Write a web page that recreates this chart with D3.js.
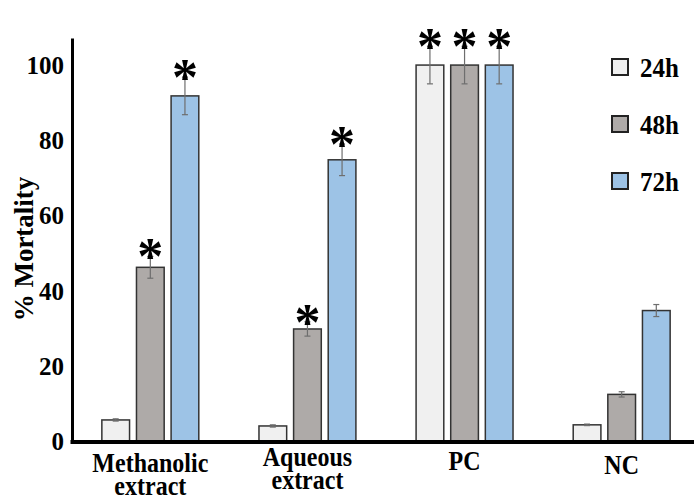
<!DOCTYPE html>
<meta charset="utf-8">
<style>
body { margin: 0; background: #fff; }
text { font-family: "Liberation Serif", "Times New Roman", serif; font-weight: bold; fill: #000; }
.bar { stroke: #333; stroke-width: 1.5px; }
.err { stroke: #6e6e6e; stroke-width: 1.2px; fill: none; }
</style>
<svg width="694" height="499"></svg>
<script src="https://d3js.org/d3.v7.min.js"></script>
<script>
var categories = ["Methanolic extract", "Aqueous extract", "PC", "NC"];
var series = ["24h", "48h", "72h"];
var values24 = [5.6, 4.0, 100, 4.3];
var values48 = [46.2, 29.8, 100, 12.4];
var values72 = [91.8, 74.8, 100, 34.7];
var errors24 = [0.3, 0.3, 5, 0.2];
var errors48 = [2.9, 1.9, 5, 0.7];
var errors72 = [5, 4.2, 5, 1.6];
var stars24 = [false, false, true, false];
var stars48 = [true, true, true, false];
var stars72 = [true, true, true, false];
var yTicks = [0, 20, 40, 60, 80, 100];

var colors = {"24h": "#f0f0f0", "48h": "#aeaaa8", "72h": "#9dc3e6"};
var vals = {"24h": values24, "48h": values48, "72h": values72};
var errs = {"24h": errors24, "48h": errors48, "72h": errors72};
var stars = {"24h": stars24, "48h": stars48, "72h": stars72};

var svg = d3.select("svg"),
    margin = {top: 38, right: 0, bottom: 58, left: 72},
    width = +svg.attr("width") - margin.left - margin.right,
    height = +svg.attr("height") - margin.top - margin.bottom;

var g = svg.append("g").attr("transform", "translate(" + margin.left + "," + margin.top + ")");

var x0 = d3.scaleBand().domain(categories).range([0, 628]).paddingInner(0.383).paddingOuter(0.19);
var x1 = d3.scaleBand().domain(series).range([0, x0.bandwidth()]).paddingInner(0.2);
var y = d3.scaleLinear().domain([0, 107.2]).range([403, 0]);

var data = [];
categories.forEach(function(c, i) {
  series.forEach(function(s) {
    data.push({cat: c, s: s, v: vals[s][i], e: errs[s][i], star: stars[s][i]});
  });
});

// bars
g.selectAll(".bar").data(data).enter().append("rect")
  .attr("class", "bar")
  .attr("x", d => x0(d.cat) + x1(d.s))
  .attr("y", d => y(d.v))
  .attr("width", x1.bandwidth())
  .attr("height", d => y(0) - y(d.v))
  .attr("fill", d => colors[d.s]);

// error bars
var eb = g.selectAll(".errg").data(data).enter().append("g").attr("class", "err")
  .attr("transform", d => "translate(" + (x0(d.cat) + x1(d.s) + x1.bandwidth() / 2) + ",0)");
eb.append("line").attr("y1", d => y(d.v + d.e)).attr("y2", d => y(d.v - d.e));
eb.append("line").attr("x1", -3).attr("x2", 3).attr("y1", d => y(d.v + d.e)).attr("y2", d => y(d.v + d.e));
eb.append("line").attr("x1", -3).attr("x2", 3).attr("y1", d => y(d.v - d.e)).attr("y2", d => y(d.v - d.e));

// asterisks
g.selectAll(".star").data(data.filter(d => d.star)).enter().append("text")
  .attr("class", "star")
  .attr("x", d => x0(d.cat) + x1(d.s) + x1.bandwidth() / 2)
  .attr("y", d => y(d.v + d.e) + 18)
  .attr("text-anchor", "middle")
  .style("font-size", "52px")
  .text("*");

// y axis
var yAxis = g.append("g").call(d3.axisLeft(y).tickValues(yTicks).tickSize(0).tickPadding(8));
yAxis.select(".domain").attr("stroke", "#000").attr("stroke-width", 3);
yAxis.selectAll("text").style("font-size", "25px").style("font-family", "Liberation Serif").attr("dy", "0.34em");

// x axis line
g.append("line").attr("x1", -1.5).attr("x2", width).attr("y1", y(0) + 1).attr("y2", y(0) + 1)
  .attr("stroke", "#000").attr("stroke-width", 4);

// x labels
var labelLines = [["Methanolic", "extract"], ["Aqueous", "extract"], ["PC"], ["NC"]];
var labelY = [472, 466, 470, 474];
categories.forEach(function(c, i) {
  var cx = margin.left + x0(c) + x0.bandwidth() / 2;
  labelLines[i].forEach(function(l, j) {
    svg.append("text")
      .attr("transform", "translate(" + cx + "," + (labelY[i] + j * 23) + ") scale(1,1.1)")
      .attr("text-anchor", "middle")
      .style("font-size", "24px")
      .text(l);
  });
});

// y title
svg.append("text")
  .attr("transform", "translate(33,249) rotate(-90)")
  .attr("text-anchor", "middle")
  .style("font-size", "27px")
  .text("% Mortality");

// legend
var leg = svg.append("g").selectAll("g").data(series).enter().append("g")
  .attr("transform", (d, i) => "translate(612," + (59 + i * 57) + ")");
leg.append("rect").attr("width", 16).attr("height", 16)
  .attr("fill", d => colors[d]).attr("stroke", "#222").attr("stroke-width", 2);
leg.append("text").attr("transform", "translate(28,18) scale(1,1.12)").style("font-size", "25px").text(d => d);
</script>
